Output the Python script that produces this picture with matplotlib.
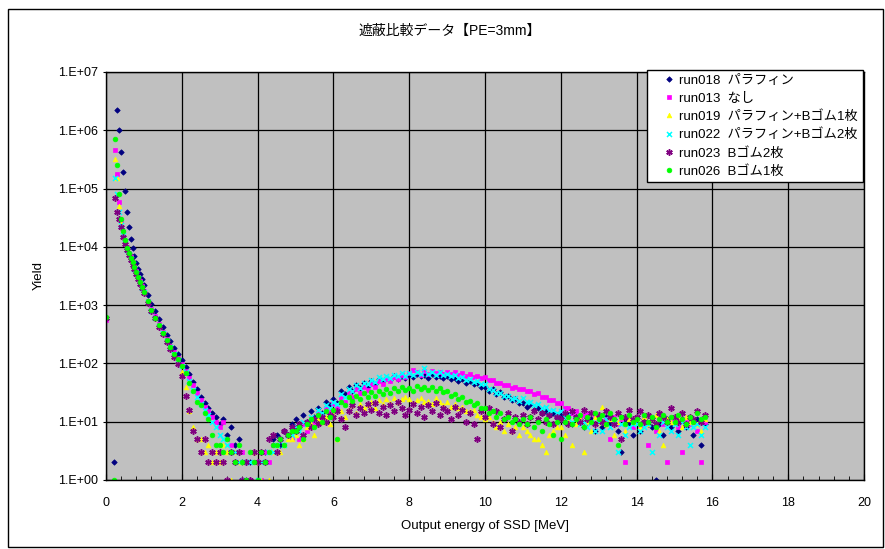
import numpy as np
import matplotlib
matplotlib.use('Agg')
import matplotlib.pyplot as plt
from matplotlib.patches import Rectangle

plt.rcParams['font.family'] = ['Liberation Sans', 'Noto Sans CJK JP']

# energy bins [MeV]: fine bins near the peak, then 0.1 MeV bins
energy_low = [0.0, 0.2, 0.25, 0.3, 0.35, 0.4, 0.45, 0.5, 0.55, 0.6, 0.65,
              0.7, 0.75, 0.8, 0.85, 0.9, 0.95]
energy_high = np.round(np.arange(1.0, 15.85, 0.1), 1)
energy = np.concatenate([energy_low, energy_high])

# yields (counts), 0 = no count
run018 = [580, 2, 0, 2200000, 1000000, 420000, 190000, 90000, 40000, 22000, 13500, 9500, 7000, 5300, 4200, 3400, 2800,
          2250, 1500, 1060, 780, 570, 420, 310, 240, 185, 145,
          115, 88, 66, 48, 36, 27, 21, 17, 14, 12,
          9, 11, 6, 8, 4, 5, 2, 1, 2, 0,
          1, 0, 3, 0, 5, 6, 4, 7, 6, 9,
          11, 8, 13, 10, 15, 12, 17, 14, 22, 19,
          25, 21, 33, 30, 40, 34, 43, 38, 46, 41,
          50, 44, 55, 49, 57, 51, 60, 54, 62, 57,
          63, 58, 66, 60, 64, 57, 65, 59, 61, 56,
          60, 53, 57, 50, 54, 47, 50, 44, 46, 40,
          40, 34, 37, 30, 32, 27, 28, 24, 25, 21,
          21, 18, 20, 16, 17, 14, 15, 13, 14, 12,
          13, 10, 13, 9, 12, 11, 8, 10, 11, 7,
          11, 8, 12, 9, 11, 7, 3, 11, 9, 6,
          10, 7, 11, 9, 8, 1, 9, 6, 11, 8,
          10, 7, 11, 8, 10, 6, 11, 4, 9]

run013 = [560, 0, 450000, 180000, 60000, 28000, 18000, 12500, 9800, 8000, 6600, 5500, 4600, 3800, 3100, 2600, 2150,
          1760, 1200, 850, 640, 470, 350, 262, 200, 158, 125,
          98, 75, 56, 42, 31, 24, 18, 15, 12, 10,
          8, 10, 5, 4, 3, 2, 3, 2, 1, 2,
          2, 1, 3, 2, 4, 0, 5, 4, 6, 5,
          8, 5, 9, 7, 11, 10, 14, 12, 17, 15,
          20, 17, 26, 22, 31, 27, 36, 31, 40, 35,
          45, 40, 50, 45, 54, 50, 59, 54, 63, 58,
          68, 78, 70, 64, 74, 66, 73, 68, 72, 67,
          72, 66, 71, 64, 68, 62, 65, 59, 61, 56,
          58, 52, 52, 47, 46, 42, 42, 38, 40, 36,
          37, 33, 33, 30, 31, 27, 27, 24, 24, 21,
          21, 17, 17, 14, 15, 12, 13, 14, 10, 13,
          12, 10, 11, 5, 12, 9, 11, 2, 12, 8,
          11, 8, 12, 4, 11, 7, 12, 9, 2, 10,
          11, 8, 3, 11, 9, 10, 7, 2, 10]

run019 = [0, 0, 320000, 150000, 50000, 26000, 17000, 12000, 9300, 7600, 6300, 5200, 4300, 3600, 3000, 2450, 2050,
          1690, 1150, 840, 600, 450, 330, 245, 185, 140, 105,
          72, 40, 15, 8, 5, 5, 3, 4, 2, 3,
          2, 4, 3, 1, 3, 2, 2, 1, 0, 3,
          2, 1, 2, 1, 3, 4, 3, 4, 5, 5,
          6, 4, 5, 8, 9, 6, 11, 10, 12, 9,
          13, 5, 15, 12, 16, 19, 14, 20, 17, 19,
          22, 17, 24, 20, 25, 21, 26, 22, 25, 27,
          25, 21, 24, 26, 22, 23, 20, 26, 22, 19,
          22, 18, 20, 17, 18, 15, 15, 16, 13, 12,
          11, 12, 10, 8, 10, 7, 9, 7, 8, 6,
          8, 7, 6, 5, 5, 4, 3, 6, 7, 8,
          8, 6, 10, 4, 9, 11, 3, 10, 7, 12,
          10, 18, 9, 11, 6, 10, 12, 7, 11, 10,
          11, 8, 12, 9, 11, 13, 7, 4, 11, 10,
          10, 11, 8, 12, 10, 11, 9, 7, 11]

run022 = [0, 0, 150000, 80000, 40000, 24000, 16000, 11500, 9000, 7400, 6100, 5100, 4200, 3500, 2900, 2400, 2000,
          1650, 1140, 800, 600, 445, 330, 240, 188, 145, 115,
          92, 70, 50, 35, 27, 20, 16, 13, 10, 8,
          6, 5, 4, 3, 3, 2, 1, 2, 2, 0,
          1, 2, 2, 3, 3, 4, 5, 4, 6, 6,
          8, 7, 10, 9, 12, 11, 16, 14, 19, 17,
          22, 20, 30, 27, 36, 33, 42, 38, 47, 44,
          52, 48, 58, 54, 62, 57, 63, 60, 68, 62,
          69, 64, 70, 66, 83, 65, 71, 64, 70, 63,
          66, 60, 63, 56, 58, 52, 54, 48, 49, 44,
          44, 37, 35, 31, 31, 28, 28, 25, 26, 23,
          26, 22, 22, 19, 20, 17, 18, 15, 16, 14,
          15, 12, 13, 10, 11, 9, 10, 8, 10, 7,
          10, 7, 11, 8, 10, 3, 9, 6, 8, 9,
          9, 7, 8, 9, 3, 9, 6, 10, 8, 7,
          9, 6, 10, 8, 4, 8, 9, 6, 8]

run023 = [590, 0, 70000, 40000, 30000, 22000, 15000, 11000, 8800, 7200, 5900, 4900, 4100, 3400, 2800, 2300, 1950,
          1600, 1100, 790, 590, 430, 320, 235, 178, 130, 98,
          62, 28, 16, 7, 5, 3, 5, 2, 3, 2,
          3, 2, 1, 3, 2, 3, 1, 2, 1, 3,
          2, 3, 2, 5, 6, 3, 5, 7, 6, 8,
          7, 9, 6, 10, 8, 11, 9, 12, 10, 13,
          12, 15, 11, 8, 15, 19, 13, 17, 14, 20,
          16, 21, 14, 18, 13, 19, 15, 22, 17, 13,
          16, 20, 14, 18, 12, 19, 15, 21, 13, 17,
          15, 11, 18, 13, 16, 10, 14, 9, 5, 15,
          12, 17, 9, 15, 8, 11, 14, 7, 12, 10,
          13, 9, 12, 15, 11, 14, 10, 13, 9, 12,
          11, 14, 9, 15, 12, 10, 16, 11, 14, 9,
          13, 10, 15, 12, 9, 14, 5, 12, 16, 11,
          12, 15, 10, 13, 11, 9, 14, 12, 10, 17,
          12, 10, 14, 9, 12, 11, 15, 10, 13]

run026 = [630, 1, 700000, 250000, 80000, 30000, 19000, 13000, 9600, 7900, 6500, 5400, 4500, 3700, 3050, 2500, 2080,
          1700, 1180, 820, 610, 455, 335, 252, 190, 148, 118,
          92, 68, 47, 33, 22, 19, 14, 11, 6, 4,
          4, 3, 5, 3, 2, 4, 2, 1, 3, 2,
          1, 3, 2, 3, 4, 4, 5, 4, 6, 7,
          7, 8, 5, 9, 11, 8, 13, 10, 15, 12,
          16, 5, 22, 19, 27, 23, 28, 25, 31, 27,
          32, 28, 34, 30, 36, 31, 38, 33, 40, 35,
          38, 34, 41, 36, 40, 35, 39, 33, 38, 32,
          33, 28, 30, 25, 27, 22, 23, 19, 21, 17,
          17, 14, 15, 12, 14, 11, 12, 10, 11, 9,
          11, 9, 12, 8, 10, 7, 11, 9, 6, 10,
          5, 10, 12, 9, 11, 13, 8, 12, 10, 14,
          11, 13, 9, 14, 11, 4, 12, 9, 13, 10,
          11, 9, 13, 10, 12, 8, 11, 13, 10, 12,
          10, 13, 11, 9, 12, 10, 14, 11, 12]

labels = ['run018  パラフィン', 'run013  なし', 'run019  パラフィン+Bゴム1枚',
          'run022  パラフィン+Bゴム2枚', 'run023  Bゴム2枚', 'run026  Bゴム1枚']
yticks = [1, 10, 100, 1000, 1e4, 1e5, 1e6, 1e7]
ytick_labels = ['1.E+00', '1.E+01', '1.E+02', '1.E+03', '1.E+04', '1.E+05', '1.E+06', '1.E+07']
xticks = [0, 2, 4, 6, 8, 10, 12, 14, 16, 18, 20]

# marker styles (Excel-like)
styles = [dict(marker='D', color='#000080', ms=2.8),
          dict(marker='s', color='#FF00FF', ms=3.0),
          dict(marker='^', color='#FFFF00', ms=3.4),
          dict(marker='x', color='#00FFFF', ms=3.6, mew=1.1),
          dict(marker=(6, 2, 0), color='#800080', ms=4.6, mew=1.1),
          dict(marker='o', color='#00FF00', ms=3.4)]

fig = plt.figure(figsize=(8.85, 5.49), dpi=100)
fig.patches.append(Rectangle((8 / 885, 2 / 549), 875 / 885, 538 / 549, transform=fig.transFigure,
                             fill=False, edgecolor='black', linewidth=1.0))
ax = fig.add_axes([106 / 885, 69 / 549, 758 / 885, 408 / 549])
ax.set_facecolor('#C0C0C0')

for series, label, st in zip([run018, run013, run019, run022, run023, run026], labels, styles):
    y = np.array(series, dtype=float)
    y[y <= 0] = np.nan
    ax.plot(energy, y, linestyle='none', marker=st['marker'], color=st['color'],
            markersize=st['ms'], markeredgewidth=st.get('mew', 0.5), label=label)

ax.set_yscale('log')
ax.set_ylim(1, 1e7)
ax.set_xlim(0, 20)
ax.set_yticks(yticks)
ax.set_yticklabels(ytick_labels)
ax.yaxis.set_minor_locator(matplotlib.ticker.NullLocator())
ax.set_xticks(xticks)
ax.set_xticks(np.arange(0, 20.01, 0.4), minor=True)
ax.tick_params(axis='y', which='major', direction='inout', length=5, labelsize=9, pad=3)
ax.tick_params(axis='x', which='major', direction='in', length=4, labelsize=9, pad=12)
ax.tick_params(axis='x', which='minor', direction='in', length=3)
ax.grid(True, which='major', color='black', linewidth=0.9)
for sp in ax.spines.values():
    sp.set_color('black')
    sp.set_linewidth(1.0)

ax.set_xlabel('Output energy of SSD [MeV]', fontsize=9.5, labelpad=8)
ax.set_ylabel('Yield', fontsize=9.5, labelpad=10)
fig.text(450 / 885, 1 - 31 / 549, '遮蔽比較データ【PE=3mm】', ha='center', va='center', fontsize=10)

leg = ax.legend(loc='upper left', bbox_to_anchor=(647 / 885, 1 - 70 / 549), bbox_transform=fig.transFigure,
                fontsize=9.5, frameon=True, fancybox=False, framealpha=1, edgecolor='black',
                handlelength=2.6, handletextpad=-0.5, labelspacing=0.42, borderpad=0.35,
                markerscale=1.0, borderaxespad=0)
leg.get_frame().set_linewidth(1.0)

fig.savefig('out.png', dpi=100)
